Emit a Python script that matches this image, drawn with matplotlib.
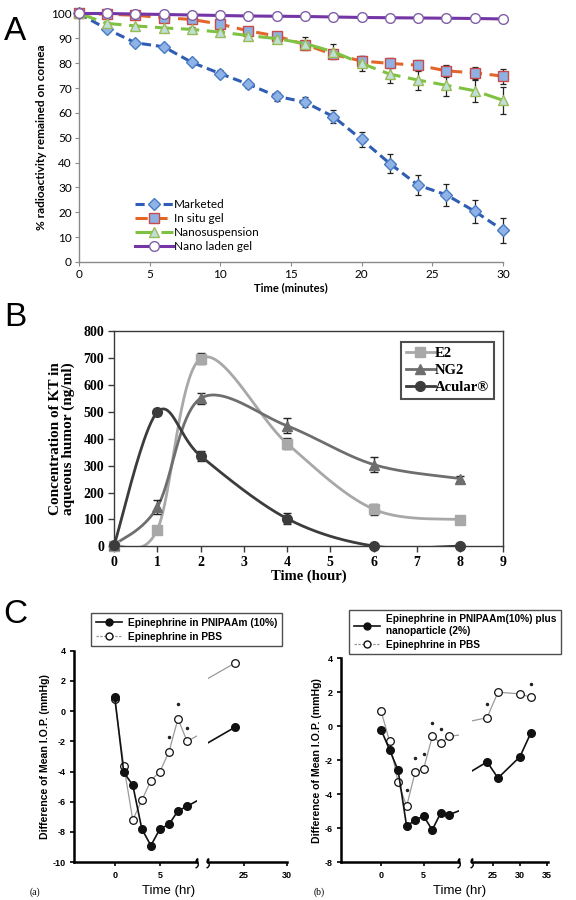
import numpy as np
import matplotlib
matplotlib.use("Agg")
import matplotlib.pyplot as plt
from matplotlib.path import Path

plt.rcParams['axes.unicode_minus'] = False

# ---------------- Panel A data ----------------
a_time = [0, 2, 4, 6, 8, 10, 12, 14, 16, 18, 20, 22, 24, 26, 28, 30]
a_marketed = [100, 93.7, 88.2, 86.6, 80.3, 75.8, 71.5, 66.7, 64.3, 58.5, 49.3, 39.6, 30.9, 27.0, 20.4, 12.8]
a_marketed_err = [0, 1, 1, 1, 1.2, 1.3, 1.5, 1.8, 2, 2.5, 3, 3.8, 4, 4.3, 4.7, 5]
a_insitu = [100, 99.7, 99.3, 98.3, 97.6, 95.7, 93.0, 90.9, 87.5, 83.5, 80.9, 79.9, 79.2, 76.9, 76.1, 74.8]
a_insitu_err = [0, 0.5, 0.5, 0.6, 0.8, 1, 1.2, 1.3, 1.5, 1.5, 2, 2, 2.2, 2.5, 2.5, 3]
a_nanosusp = [100, 96.0, 95.0, 94.2, 93.6, 92.5, 91.1, 89.9, 87.9, 84.6, 79.9, 75.6, 73.2, 71.1, 68.9, 65.1]
a_nanosusp_err = [0, 0.5, 0.5, 0.5, 0.8, 1, 1, 1, 2.5, 3, 3, 3.5, 4, 4.5, 4.5, 5.5]
a_nanogel = [100, 100, 99.8, 99.6, 99.4, 99.2, 99.0, 98.9, 98.8, 98.6, 98.4, 98.3, 98.2, 98.1, 98.0, 97.8]
a_nanogel_err = [0.6] * 16
a_labels = ["Marketed", "In situ gel", "Nanosuspension", "Nano laden gel"]

# ---------------- Panel B data ----------------
b_time = [0, 1, 2, 4, 6, 8]
b_e2 = [2, 62, 698, 382, 138, 99]
b_e2_err = [0, 12, 20, 20, 20, 15]
b_ng2 = [5, 146, 550, 448, 304, 252]
b_ng2_err = [0, 25, 22, 28, 28, 10]
b_acular = [3, 499, 336, 103, 1, 1]
b_acular_err = [0, 10, 18, 20, 0, 0]
b_labels = ["E2", "NG2", "Acular®"]

# ---------------- Panel C data ----------------
ca_time = [0, 1, 2, 3, 4, 5, 6, 7, 8, 24]
ca_gel = [0.95, -4.05, -4.9, -7.8, -8.9, -7.8, -7.5, -6.6, -6.3, -1.05]
ca_pbs = [0.8, -3.6, -7.2, -5.9, -4.6, -4.0, -2.7, -0.5, -2.0, 3.2]
ca_star_x = [6, 7, 8]
ca_star_y = [-1.7, 0.45, -1.1]
ca_labels = ["Epinephrine in PNIPAAm (10%)", "Epinephrine in PBS"]

cb_time = [0, 1, 2, 3, 4, 5, 6, 7, 8, 24, 26, 30, 32]
cb_gel = [-0.2, -1.4, -2.6, -5.9, -5.5, -5.3, -6.1, -5.1, -5.2, -2.1, -3.05, -1.8, -0.4]
cb_pbs = [0.9, -0.9, -3.3, -4.7, -2.7, -2.5, -0.6, -1.0, -0.6, 0.5, 2.0, 1.9, 1.7]
cb_star_x = [3, 4, 5, 6, 7, 24, 32]
cb_star_y = [-3.75, -1.85, -1.65, 0.2, -0.15, 1.3, 2.5]
cb_labels = ["Epinephrine in PNIPAAm(10%) plus\nnanoparticle (2%)", "Epinephrine in PBS"]

fig = plt.figure(figsize=(5.76, 9), dpi=100)

# ================= Panel A =================
axA = fig.add_axes([0.137, 0.709, 0.736, 0.276])
sansA = ['Lato', 'DejaVu Sans']
styles = [
    dict(color='#2f5db3', ls=(0, (3.0, 1.6)), lw=2.2, marker='D', ms=6, mfc='#8fb3e6', mec='#4a7cc4'),
    dict(color='#e2662a', ls=(0, (4.0, 2.5)), lw=2.2, marker='s', ms=7, mfc='#8fb0e2', mec='#c84a4a'),
    dict(color='#7fc241', ls=(0, (6.0, 2.5)), lw=2.2, marker='^', ms=7, mfc='#bfe0d8', mec='#9bbb59'),
    dict(color='#7435a6', ls='-', lw=2.2, marker='o', ms=7, mfc='white', mec='#7f5fa6'),
]
series = [(a_marketed, a_marketed_err), (a_insitu, a_insitu_err),
          (a_nanosusp, a_nanosusp_err), (a_nanogel, a_nanogel_err)]
handles = []
for (vals, errs), st, lab in zip(series, styles, a_labels):
    axA.errorbar(a_time, vals, yerr=errs, fmt='none', ecolor='#222222', elinewidth=0.9,
                 capsize=2.5, capthick=0.9, zorder=2, clip_on=False)
    h, = axA.plot(a_time, vals, label=lab, zorder=3, clip_on=False, **st)
    handles.append(h)
axA.set_xlim(0, 30)
axA.set_ylim(0, 100)
axA.set_xticks(range(0, 31, 5))
axA.set_yticks(range(0, 101, 10))
for s in ['top', 'right']:
    axA.spines[s].set_visible(False)
for s in ['left', 'bottom']:
    axA.spines[s].set_color('#8a8a8a')
    axA.spines[s].set_linewidth(1.0)
axA.tick_params(direction='out', length=3, color='#8a8a8a', labelsize=8.5, pad=2)
for lbl in axA.get_xticklabels() + axA.get_yticklabels():
    lbl.set_family(sansA)
axA.set_xlabel("Time (minutes)", fontsize=8, fontweight='bold', family=sansA, labelpad=2)
axA.set_ylabel("% radioactivity remained on cornea", fontsize=8.5, fontweight='bold',
               family=sansA, labelpad=3)
legA = axA.legend(handles=handles, loc='lower left', bbox_to_anchor=(0.115, 0.01), frameon=False,
                  prop={'family': sansA, 'size': 8.5}, handlelength=3.2, labelspacing=0.25,
                  handletextpad=0.1, borderaxespad=0.2)

# ================= Panel B =================
def excel_smooth(x, y, n=40):
    P = np.column_stack([x, y]).astype(float)
    out = [P[0]]
    m = len(P)
    for i in range(m - 1):
        p0 = P[i - 1] if i > 0 else P[i]
        p1 = P[i]
        p2 = P[i + 1]
        p3 = P[i + 2] if i + 2 < m else P[i + 1]
        c1 = p1 + (p2 - p0) / 6.0
        c2 = p2 - (p3 - p1) / 6.0
        t = np.linspace(0, 1, n)[1:, None]
        seg = ((1 - t) ** 3) * p1 + 3 * ((1 - t) ** 2) * t * c1 + 3 * (1 - t) * t ** 2 * c2 + t ** 3 * p2
        out.extend(seg)
    out = np.array(out)
    return out[:, 0], out[:, 1]

axB = fig.add_axes([0.198, 0.393, 0.676, 0.239])
serif = ['Liberation Serif', 'DejaVu Serif']
b_series = [(b_e2, b_e2_err, '#a8a8a8', 's'), (b_ng2, b_ng2_err, '#6e6e6e', '^'),
            (b_acular, b_acular_err, '#3c3c3c', 'o')]
b_handles = []
for (vals, errs, col, mk), lab in zip(b_series, b_labels):
    sx, sy = excel_smooth(b_time, vals)
    axB.plot(sx, sy, color=col, lw=2.0, zorder=2)
    axB.errorbar(b_time, vals, yerr=errs, fmt='none', ecolor='#222222', elinewidth=1.0,
                 capsize=3, capthick=1.0, zorder=3)
    axB.plot(b_time, vals, ls='none', marker=mk, ms=7, color=col, zorder=4, clip_on=False)
    h, = axB.plot([], [], color=col, lw=2.0, marker=mk, ms=7, label=lab)
    b_handles.append(h)
axB.set_xlim(0, 9)
axB.set_ylim(0, 800)
axB.set_xticks(range(0, 10))
axB.set_yticks(range(0, 801, 100))
for s in axB.spines.values():
    s.set_color('#3a3a3a')
    s.set_linewidth(1.0)
axB.tick_params(direction='out', length=4, width=1.0, color='#3a3a3a', labelsize=10, pad=3)
for lbl in axB.get_xticklabels() + axB.get_yticklabels():
    lbl.set_family(serif)
    lbl.set_fontweight('bold')
axB.set_xlabel("Time (hour)", fontsize=10.5, fontweight='bold', family=serif, labelpad=0)
axB.set_ylabel("Concentration of KT in\naqueous humor (ng/ml)", fontsize=11, fontweight='bold',
               family=serif, labelpad=6, linespacing=1.0)
legB = axB.legend(handles=b_handles, loc='upper right', bbox_to_anchor=(0.995, 0.985),
                  prop={'family': serif, 'size': 10.5, 'weight': 'bold'}, handlelength=2.0,
                  handletextpad=0.0, labelspacing=0.25, fancybox=False, borderpad=0.35)
legB.get_frame().set_edgecolor('#222222')
legB.get_frame().set_linewidth(1.5)

# ================= Panel C =================
sansC = ['Liberation Sans', 'DejaVu Sans']
brk = Path([(-0.35, -1.0), (0.35, -0.7), (0.25, 0.0), (-0.25, 0.0), (-0.35, 0.7), (0.35, 1.0)],
           [Path.MOVETO, Path.CURVE4, Path.CURVE4, Path.CURVE4, Path.CURVE4, Path.CURVE4])

def c_panel(rect1, rect2, xl1, xl2, yl, yticks, xt1, xt2, tx, gel, pbs, sx, sy):
    ax1 = fig.add_axes(rect1)
    ax2 = fig.add_axes(rect2, sharey=ax1)
    for ax in (ax1, ax2):
        ax.plot(tx, pbs, color='#9a9a9a', lw=0.9, marker='o', ms=5.5, mfc='white', mec='#111111',
                mew=0.9, zorder=3)
        ax.plot(tx, gel, color='#111111', lw=1.2, marker='o', ms=5.5, mfc='#111111', mec='#111111',
                zorder=3)
        ax.plot(sx, sy, ls='none', marker='.', ms=3.0, color='#222222', zorder=3)
        for s in ['top', 'right']:
            ax.spines[s].set_visible(False)
        ax.spines['bottom'].set_linewidth(1.8)
        ax.spines['left'].set_linewidth(1.8)
        ax.tick_params(direction='out', length=3, width=1.2, labelsize=6.5, pad=3)
    ax1.set_xlim(*xl1)
    ax2.set_xlim(*xl2)
    ax1.set_ylim(*yl)
    ax1.set_yticks(yticks)
    ax1.set_xticks(xt1)
    ax2.set_xticks(xt2)
    for lbl in ax1.get_xticklabels() + ax1.get_yticklabels() + ax2.get_xticklabels():
        lbl.set_family(sansC)
        lbl.set_fontweight('bold')
    ax2.spines['left'].set_visible(False)
    ax2.tick_params(axis='y', left=False, labelleft=False)
    ax1.plot([1], [0], transform=ax1.transAxes, marker=brk, ms=8, mfc='none', mec='k',
             mew=1.0, clip_on=False, zorder=5)
    ax2.plot([0], [0], transform=ax2.transAxes, marker=brk, ms=8, mfc='none', mec='k',
             mew=1.0, clip_on=False, zorder=5)
    ax1.set_ylabel("Difference of Mean I.O.P. (mmHg)", fontsize=7.6, fontweight='bold',
                   family=sansC, labelpad=2)
    return ax1, ax2

ca1, ca2 = c_panel([0.1285, 0.042, 0.2135, 0.235], [0.361, 0.042, 0.137, 0.235],
                   (-4.5, 9.1), (20.8, 30), (-10, 4), range(-10, 5, 2), [0, 5], [25, 30],
                   ca_time, ca_gel, ca_pbs, ca_star_x, ca_star_y)
cb1, cb2 = c_panel([0.592, 0.042, 0.2043, 0.2267], [0.819, 0.042, 0.133, 0.2267],
                   (-4.7, 9.1), (21.2, 35.2), (-8, 4), range(-8, 5, 2), [0, 5], [25, 30, 35],
                   cb_time, cb_gel, cb_pbs, cb_star_x, cb_star_y)

fig.text(0.292, 0.010, "Time (hr)", fontsize=9.5, family=sansC, ha='center', va='center')
fig.text(0.798, 0.010, "Time (hr)", fontsize=9.5, family=sansC, ha='center', va='center')

def c_legend(labels, anchor):
    h1, = ca1.plot([], [], color='#111111', lw=1.2, marker='o', ms=5, mfc='#111111')
    h2, = ca1.plot([], [], color='#9a9a9a', lw=0.9, ls=(0, (2, 1)), marker='o', ms=5,
                   mfc='white', mec='#111111')
    lg = fig.legend([h1, h2], labels, loc='upper left', bbox_to_anchor=anchor,
                    prop={'family': sansC, 'size': 7.3, 'weight': 'bold'}, handlelength=2.6,
                    fancybox=False, borderpad=0.45, labelspacing=0.35, handletextpad=0.6)
    lg.get_frame().set_edgecolor('#222222')
    lg.get_frame().set_linewidth(1.0)
    return lg

c_legend(ca_labels, (0.150, 0.324))
c_legend(cb_labels, (0.597, 0.328))

fig.text(0.06, 0.009, "(a)", fontsize=7, family=serif, ha='center', va='center')
fig.text(0.555, 0.009, "(b)", fontsize=7, family=serif, ha='center', va='center')

# panel letters
for txt, x, y in [("A", 0.026, 0.965), ("B", 0.027, 0.647), ("C", 0.026, 0.317)]:
    fig.text(x, y, txt, fontsize=24, family=['Liberation Sans', 'DejaVu Sans'],
             ha='center', va='center')

fig.savefig("out.png", dpi=100)
